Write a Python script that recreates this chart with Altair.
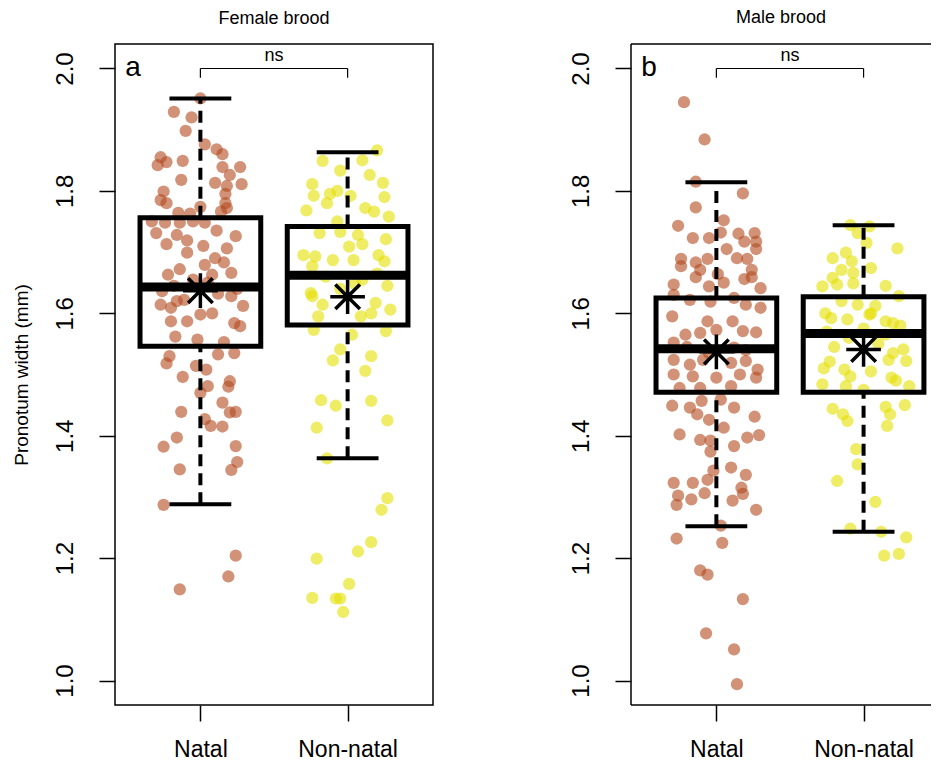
import altair as alt
import pandas as pd

categories = ["Natal", "Non-natal"]
colors = ["#b24a1e", "#e5df00"]
y_ticks = [1.0, 1.2, 1.4, 1.6, 1.8, 2.0]

# ---- Panel a (Female brood): jittered observations (value, jitter offset)
a_natal_y = [1.951, 1.929, 1.920, 1.898, 1.876, 1.868, 1.860, 1.855, 1.842, 1.847, 1.849, 1.839, 1.839,
             1.826, 1.818, 1.813, 1.808, 1.811, 1.799, 1.795, 1.785, 1.780, 1.780, 1.774, 1.772, 1.764,
             1.763, 1.766, 1.750, 1.748, 1.748, 1.750, 1.748, 1.735, 1.731, 1.728, 1.726, 1.719, 1.713,
             1.710, 1.706, 1.699, 1.690, 1.679, 1.683, 1.672, 1.663, 1.666, 1.663, 1.614, 1.609, 1.620,
             1.622, 1.600, 1.598, 1.612, 1.628, 1.587, 1.587, 1.584, 1.579, 1.562, 1.557, 1.553, 1.533,
             1.535, 1.530, 1.518, 1.514, 1.508, 1.496, 1.481, 1.489, 1.480, 1.470, 1.454, 1.439, 1.438,
             1.439, 1.427, 1.416, 1.415, 1.397, 1.382, 1.383, 1.345, 1.357, 1.344, 1.287, 1.204, 1.170,
             1.149, 1.645, 1.650, 1.640, 1.655, 1.632, 1.636]
a_natal_dx = [0.00, -0.18, -0.06, -0.10, 0.03, 0.11, 0.15, -0.27, -0.29, -0.23, -0.12, 0.15, 0.27,
              0.20, -0.13, 0.10, 0.18, 0.28, -0.25, 0.17, -0.27, -0.23, 0.17, 0.00, 0.18, -0.15,
              -0.07, 0.14, -0.33, -0.24, -0.14, -0.05, 0.03, 0.11, -0.30, -0.16, 0.24, -0.09, -0.23,
              0.02, 0.18, -0.09, 0.10, 0.03, 0.16, -0.14, -0.22, 0.21, 0.08, -0.27, -0.20, -0.16,
              -0.11, 0.08, 0.00, 0.29, 0.21, -0.20, -0.09, 0.23, 0.27, -0.17, -0.02, 0.16, 0.12,
              0.23, -0.21, -0.23, -0.03, 0.04, -0.12, 0.05, 0.20, 0.19, 0.00, 0.15, -0.13, 0.20,
              0.24, 0.03, 0.07, 0.15, -0.16, -0.25, 0.24, -0.14, 0.25, 0.21, -0.25, 0.24, 0.19,
              -0.14, -0.18, 0.05, 0.25, -0.05, 0.12, -0.26]
a_non_y = [1.866, 1.849, 1.850, 1.833, 1.826, 1.811, 1.813, 1.800, 1.792, 1.795, 1.792, 1.790, 1.780,
           1.768, 1.772, 1.766, 1.758, 1.750, 1.731, 1.733, 1.728, 1.721, 1.709, 1.713, 1.695, 1.693,
           1.687, 1.695, 1.687, 1.685, 1.677, 1.645, 1.633, 1.628, 1.614, 1.595, 1.573, 1.617, 1.600,
           1.606, 1.595, 1.571, 1.565, 1.541, 1.523, 1.530, 1.506, 1.458, 1.449, 1.457, 1.413, 1.425,
           1.363, 1.298, 1.279, 1.226, 1.211, 1.199, 1.158, 1.135, 1.134, 1.134, 1.112,
           1.660, 1.655, 1.665, 1.640, 1.648]
a_non_dx = [0.20, -0.17, 0.10, -0.05, 0.15, -0.24, 0.24, -0.07, -0.23, -0.12, 0.02, 0.25, -0.14,
            -0.28, 0.12, 0.18, 0.28, -0.07, -0.19, -0.05, 0.07, 0.26, 0.01, 0.10, -0.30, -0.22,
            -0.10, 0.21, 0.04, 0.25, -0.24, 0.27, -0.25, -0.24, -0.17, -0.20, -0.23, 0.19, 0.16,
            0.29, 0.09, 0.26, 0.03, -0.05, -0.10, 0.16, 0.12, -0.18, -0.08, 0.16, -0.21, 0.27,
            -0.14, 0.27, 0.23, 0.16, 0.07, -0.21, 0.01, -0.24, -0.08, -0.05, -0.03,
            -0.15, 0.10, 0.20, -0.05, 0.05]

# ---- Panel b (Male brood)
b_natal_y = [1.945, 1.884, 1.815, 1.796, 1.773, 1.752, 1.743, 1.732, 1.723, 1.723, 1.730, 1.731, 1.717,
             1.717, 1.705, 1.705, 1.690, 1.689, 1.689, 1.677, 1.683, 1.689, 1.671, 1.664, 1.671, 1.659,
             1.647, 1.659, 1.644, 1.650, 1.656, 1.641, 1.630, 1.622, 1.619, 1.625, 1.614, 1.609, 1.595,
             1.587, 1.587, 1.565, 1.568, 1.573, 1.571, 1.569, 1.552, 1.544, 1.524, 1.516, 1.524, 1.519,
             1.522, 1.508, 1.500, 1.497, 1.495, 1.500, 1.495, 1.478, 1.478, 1.481, 1.449, 1.446, 1.457,
             1.459, 1.446, 1.435, 1.426, 1.431, 1.413, 1.402, 1.393, 1.392, 1.397, 1.401, 1.383, 1.374,
             1.348, 1.343, 1.336, 1.323, 1.323, 1.328, 1.315, 1.302, 1.296, 1.306, 1.305, 1.287, 1.294,
             1.279, 1.253, 1.232, 1.225, 1.180, 1.173, 1.133, 1.077, 1.051, 0.994,
             1.545, 1.540, 1.535]
b_natal_dx = [-0.22, -0.08, -0.14, 0.18, -0.14, 0.05, -0.26, 0.03, -0.16, -0.05, 0.15, 0.26, 0.19,
              0.27, 0.07, 0.27, 0.14, 0.21, -0.24, -0.24, -0.14, -0.06, -0.11, 0.01, 0.24, 0.24,
              -0.29, -0.14, -0.05, 0.05, 0.19, 0.30, -0.29, -0.18, -0.04, 0.12, 0.20, 0.30, -0.30,
              -0.06, 0.11, -0.21, -0.11, 0.00, 0.18, 0.27, -0.29, 0.12, -0.29, -0.18, -0.09, 0.10,
              0.20, 0.28, -0.29, -0.16, 0.00, 0.16, 0.27, -0.25, -0.11, 0.10, -0.30, -0.18, -0.10,
              0.03, 0.12, -0.13, -0.05, 0.26, 0.05, -0.25, -0.11, -0.04, 0.21, 0.29, 0.12, -0.04,
              0.10, -0.02, 0.20, -0.29, -0.16, -0.06, 0.17, -0.26, -0.17, -0.08, 0.18, -0.27, 0.11,
              0.27, 0.03, -0.27, 0.04, -0.11, -0.06, 0.18, -0.07, 0.12, 0.14,
              -0.20, 0.20, -0.05]
b_non_y = [1.744, 1.742, 1.731, 1.715, 1.706, 1.699, 1.690, 1.685, 1.674, 1.671, 1.666, 1.658, 1.647,
           1.645, 1.644, 1.649, 1.600, 1.592, 1.590, 1.598, 1.587, 1.584, 1.614, 1.612, 1.628, 1.541,
           1.521, 1.522, 1.508, 1.524, 1.497, 1.495, 1.484, 1.481, 1.481, 1.444, 1.435, 1.424, 1.447,
           1.435, 1.450, 1.416, 1.378, 1.353, 1.326, 1.292, 1.248, 1.243, 1.234, 1.204, 1.207,
           1.560, 1.550, 1.575, 1.580, 1.545, 1.505, 1.570, 1.620, 1.535, 1.475, 1.600, 1.565, 1.510,
           1.490]
b_non_dx = [-0.09, 0.04, -0.04, 0.02, 0.23, -0.12, -0.21, -0.08, 0.05, -0.15, -0.07, -0.21, -0.18,
            0.15, -0.28, -0.07, -0.26, -0.22, -0.11, 0.04, 0.15, 0.20, -0.04, 0.08, 0.24, 0.27,
            -0.23, 0.29, -0.13, 0.17, -0.09, 0.19, -0.28, -0.12, 0.31, -0.21, -0.14, -0.11, 0.15,
            0.18, 0.28, 0.16, -0.05, -0.04, -0.18, 0.08, -0.09, 0.12, 0.29, 0.14, 0.24,
            -0.10, 0.10, 0.00, 0.25, -0.20, 0.05, -0.25, -0.15, 0.20, 0.00, 0.05, 0.15, -0.27,
            0.22]

# ---- Box statistics (Natal, Non-natal)
a_lower = [1.288, 1.363]
a_q1 = [1.546, 1.581]
a_median = [1.643, 1.662]
a_q3 = [1.756, 1.742]
a_upper = [1.951, 1.863]
a_mean = [1.637, 1.627]

b_lower = [1.252, 1.243]
b_q1 = [1.471, 1.471]
b_median = [1.542, 1.567]
b_q3 = [1.625, 1.627]
b_upper = [1.814, 1.744]
b_mean = [1.537, 1.541]

FONT = "Liberation Sans"
STAR = "M-1,0L1,0M0,-1L0,1M-0.71,-0.71L0.71,0.71M-0.71,0.71L0.71,-0.71"
PANEL_H = 661


def points_df(natal_y, natal_dx, non_y, non_dx):
    rows = []
    for v, d in zip(natal_y, natal_dx):
        rows.append({"group": categories[0], "pos": 1, "dx": d, "value": v})
    for v, d in zip(non_y, non_dx):
        rows.append({"group": categories[1], "pos": 2, "dx": d, "value": v})
    return pd.DataFrame(rows)


def stats_df(lower, q1, med, q3, upper, mean):
    return pd.DataFrame({"group": categories, "pos": [1, 2], "lower": lower, "q1": q1,
                         "median": med, "q3": q3, "upper": upper, "mean": mean})


def panel(pts, st, title, letter, width, xmax, ytitle, open_right):
    xscale = alt.Scale(domain=[0.42, xmax], nice=False, zero=False)
    yscale = alt.Scale(domain=[0.96, 2.04], nice=False, zero=False)
    label_expr = "datum.value == 1 ? '%s' : '%s'" % (categories[0], categories[1])
    xaxis = alt.Axis(values=[1, 2], labelExpr=label_expr, title=None, grid=False, domain=False,
                     tickSize=16, tickWidth=1.5, tickColor="black", labelFontSize=23,
                     labelPadding=17, labelColor="black", labelFont=FONT)
    yaxis = alt.Axis(values=y_ticks, format=".1f", title=ytitle if ytitle else None,
                     grid=False, domain=False, tickSize=16, tickWidth=1.5, tickColor="black",
                     labelFontSize=24, labelAngle=-90, labelPadding=22, labelColor="black",
                     labelFont=FONT, titleFontSize=19, titleFontWeight="normal",
                     titleFont=FONT, titleColor="black", titlePadding=22)

    def X(f):
        return alt.X(f, type="quantitative", scale=xscale, axis=xaxis)

    def Y(f):
        return alt.Y(f, type="quantitative", scale=yscale, axis=yaxis)

    pts_base = alt.Chart(pts)
    st_base = alt.Chart(st).transform_calculate(
        bl="datum.pos - 0.41", br="datum.pos + 0.41",
        cl="datum.pos - 0.21", cr="datum.pos + 0.21")

    dots = pts_base.transform_calculate(xj="datum.pos + datum.dx").mark_circle(
        size=150, opacity=0.6).encode(
        x=X("xj"), y=Y("value"),
        color=alt.Color("group:N", scale=alt.Scale(domain=categories, range=colors), legend=None))

    wh_up = st_base.mark_rule(strokeDash=[12, 7], strokeWidth=4, color="black").encode(
        x=X("pos"), y=Y("q3"), y2="upper")
    wh_lo = st_base.mark_rule(strokeDash=[12, 7], strokeWidth=4, color="black").encode(
        x=X("pos"), y=Y("lower"), y2="q1")
    cap_up = st_base.mark_rule(strokeWidth=4, color="black").encode(
        x=X("cl"), x2="cr", y=Y("upper"))
    cap_lo = st_base.mark_rule(strokeWidth=4, color="black").encode(
        x=X("cl"), x2="cr", y=Y("lower"))
    box = st_base.mark_rect(fillOpacity=0, stroke="black", strokeWidth=5).encode(
        x=X("bl"), x2="br", y=Y("q1"), y2="q3")
    med = st_base.mark_rule(strokeWidth=9, color="black").encode(
        x=X("bl"), x2="br", y=Y("median"))
    star = st_base.mark_point(shape=STAR, size=1200, strokeWidth=3.5, color="black",
                              filled=False, opacity=1).encode(x=X("pos"), y=Y("mean"))

    br = pd.DataFrame({"x1": [1], "x2": [2], "y": [2.0], "yt": [1.985], "xm": [1.5],
                       "lab": ["ns"], "xl": [0.49], "yl": [2.0], "let": [letter]})
    br_base = alt.Chart(br)
    br_h = br_base.mark_rule(strokeWidth=1.2, color="black").encode(x=X("x1"), x2="x2", y=Y("y"))
    br_l = br_base.mark_rule(strokeWidth=1.2, color="black").encode(x=X("x1"), y=Y("yt"), y2="y")
    br_r = br_base.mark_rule(strokeWidth=1.2, color="black").encode(x=X("x2"), y=Y("yt"), y2="y")
    ns = br_base.mark_text(fontSize=18, font=FONT, baseline="bottom", dy=-3, color="black").encode(
        x=X("xm"), y=Y("y"), text="lab:N")
    let = br_base.mark_text(fontSize=28, font=FONT, align="left", baseline="middle",
                            color="black").encode(x=X("xl"), y=Y("yl"), text="let:N")

    layers = [dots, wh_up, wh_lo, cap_up, cap_lo, box, med, star, br_h, br_l, br_r, ns, let]
    props = dict(width=width, height=PANEL_H,
                 title=alt.TitleParams(title, fontSize=18, fontWeight="normal", font=FONT,
                                       color="black", offset=16, anchor="middle"))
    if open_right:
        # frame on left, top and bottom only (the right edge is cut off in the original figure)
        fr_top = br_base.mark_rule(strokeWidth=1.5, color="black").encode(
            x=alt.value(0), x2=alt.value(width), y=alt.value(0))
        fr_bot = br_base.mark_rule(strokeWidth=1.5, color="black").encode(
            x=alt.value(0), x2=alt.value(width), y=alt.value(PANEL_H))
        fr_left = br_base.mark_rule(strokeWidth=1.5, color="black").encode(
            x=alt.value(0), y=alt.value(0), y2=alt.value(PANEL_H))
        layers += [fr_top, fr_bot, fr_left]
        props["view"] = alt.ViewBackground(stroke="transparent")
    return alt.layer(*layers).properties(**props)


pa = panel(points_df(a_natal_y, a_natal_dx, a_non_y, a_non_dx),
           stats_df(a_lower, a_q1, a_median, a_q3, a_upper, a_mean),
           "Female brood", "a", 318, 2.58, "Pronotum width (mm)", False)
pb = panel(points_df(b_natal_y, b_natal_dx, b_non_y, b_non_dx),
           stats_df(b_lower, b_q1, b_median, b_q3, b_upper, b_mean),
           "Male brood", "b", 300, 0.42 + 300 / 147.2, None, True)

chart = alt.hconcat(pa, pb, spacing=134).properties(
    padding={"left": 3, "top": 0, "right": 0, "bottom": 0}
).configure(font=FONT).configure_view(stroke="black", strokeWidth=1.5)

chart.save("out.html", embed_options={"renderer": "svg", "actions": False})
